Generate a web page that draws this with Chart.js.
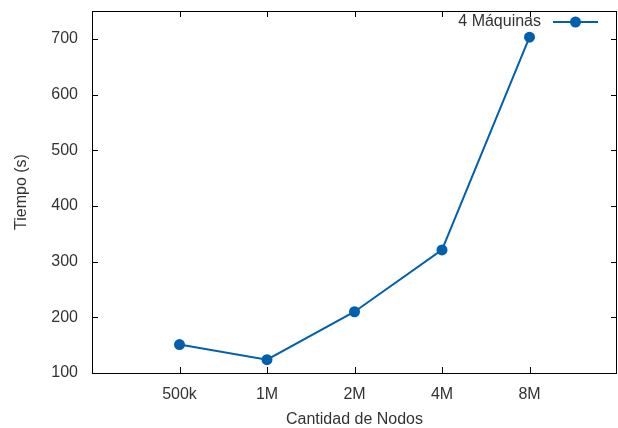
<!DOCTYPE html>
<html>
<head>
<meta charset="utf-8">
<script src="https://cdn.jsdelivr.net/npm/chart.js@4"></script>
<style>
  html, body { margin: 0; padding: 0; background: #fff; }
  #wrap { width: 618px; height: 428px; }
</style>
</head>
<body>
<div id="wrap"><canvas id="chart"></canvas></div>
<script>
const categories = ['500k', '1M', '2M', '4M', '8M'];
const tiempos = [151, 124, 210, 321, 703];
const yTicks = [100, 200, 300, 400, 500, 600, 700];
const seriesLabel = '4 Máquinas';

const blue = '#0060ad';
const textColor = '#333';
const font = { family: 'Liberation Sans, Arial, sans-serif', size: 16 };

// gnuplot style: frame + inward ticks, mirrored on top/right
const framePlugin = {
    id: 'frame',
    afterDraw(chart) {
        const { ctx, chartArea: a, scales } = chart;
        ctx.save();
        ctx.strokeStyle = '#000';
        ctx.lineWidth = 1;
        ctx.beginPath();
        categories.forEach((c, i) => {
            const px = Math.round(scales.x.getPixelForValue(i)) + 0.5;
            ctx.moveTo(px, a.bottom); ctx.lineTo(px, a.bottom - 6);
            ctx.moveTo(px, a.top); ctx.lineTo(px, a.top + 6);
        });
        yTicks.forEach(v => {
            const py = Math.round(scales.y.getPixelForValue(v)) + 0.5;
            ctx.moveTo(a.left, py); ctx.lineTo(a.left + 6, py);
            ctx.moveTo(a.right, py); ctx.lineTo(a.right - 6, py);
        });
        ctx.stroke();
        ctx.strokeRect(Math.round(a.left) + 0.5, Math.round(a.top) + 0.5,
            Math.round(a.right - a.left) - 1, Math.round(a.bottom - a.top));

        // legend, top right inside the frame
        const ly = a.top + 11;
        const x1 = a.right - 64, x2 = a.right - 19;
        ctx.fillStyle = textColor;
        ctx.font = font.size + 'px ' + font.family;
        ctx.textAlign = 'right';
        ctx.textBaseline = 'middle';
        ctx.fillText(seriesLabel, x1 - 12, ly);
        ctx.strokeStyle = blue;
        ctx.lineWidth = 2;
        ctx.beginPath();
        ctx.moveTo(x1, ly); ctx.lineTo(x2, ly);
        ctx.stroke();
        ctx.fillStyle = blue;
        ctx.beginPath();
        ctx.arc((x1 + x2) / 2, ly, 5.5, 0, Math.PI * 2);
        ctx.fill();
        ctx.restore();
    }
};

const ctx = document.getElementById('chart');
new Chart(ctx, {
    type: 'line',
    data: {
        datasets: [{
            label: seriesLabel,
            data: tiempos.map((v, i) => ({ x: i, y: v })),
            borderColor: blue,
            backgroundColor: blue,
            borderWidth: 2,
            pointRadius: 5.5,
            pointHoverRadius: 5.5,
            pointBorderWidth: 0,
            tension: 0
        }]
    },
    options: {
        responsive: true,
        maintainAspectRatio: false,
        animation: false,
        layout: { autoPadding: false, padding: { top: 11, right: 1, left: 0, bottom: 0 } },
        plugins: {
            legend: { display: false },
            tooltip: { enabled: false }
        },
        scales: {
            x: {
                type: 'linear',
                min: -1,
                max: categories.length,
                grid: { display: false, drawTicks: false },
                border: { display: false },
                ticks: {
                    stepSize: 1,
                    padding: 12,
                    color: textColor,
                    font: font,
                    maxRotation: 0,
                    callback: v => categories[v] || ''
                },
                title: {
                    display: true,
                    text: 'Cantidad de Nodos',
                    color: textColor,
                    font: font,
                    padding: { top: 4, bottom: -1 }
                },
                afterFit: s => {
                    s.height = 55;
                    s.paddingLeft = 0;
                    s.paddingRight = 0;
                }
            },
            y: {
                min: 100,
                max: 750,
                grid: { display: false, drawTicks: false },
                border: { display: false },
                afterBuildTicks: s => { s.ticks = yTicks.map(v => ({ value: v })); },
                ticks: {
                    padding: 14,
                    color: textColor,
                    font: font
                },
                title: {
                    display: true,
                    text: 'Tiempo (s)',
                    color: textColor,
                    font: font,
                    padding: { top: 12, bottom: 0 }
                },
                afterFit: s => {
                    s.width = 92;
                    s.paddingTop = 0;
                    s.paddingBottom = 0;
                }
            }
        }
    },
    plugins: [framePlugin]
});
</script>
</body>
</html>
